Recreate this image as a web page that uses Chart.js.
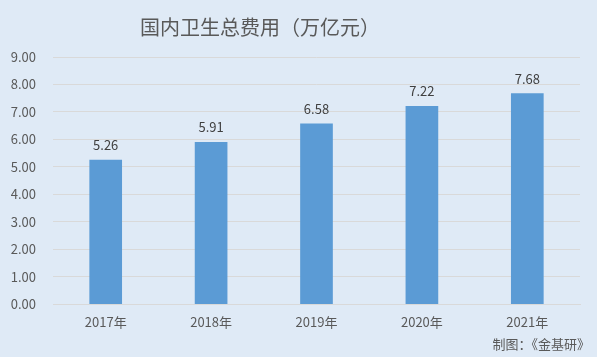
<!DOCTYPE html>
<html>
<head>
<meta charset="utf-8">
<script src="https://cdn.jsdelivr.net/npm/chart.js@4/dist/chart.umd.min.js"></script>
<style>
html,body{margin:0;padding:0;background:#dfeaf6;}
#wrap{width:597px;height:357px;position:relative;}
</style>
</head>
<body>
<div id="wrap"><canvas id="c" width="597" height="357"></canvas></div>
<script>
const categories = ["2017年","2018年","2019年","2020年","2021年"];
const values = [5.26, 5.91, 6.58, 7.22, 7.68];
const yTicks = [0,1,2,3,4,5,6,7,8,9];
const titleText = "国内卫生总费用（万亿元）";
const sourceText = "制图：《金基研》";

const FONT = "'Noto Sans CJK SC', 'Noto Sans', sans-serif";

const labelPlugin = {
  id: 'valueLabels',
  afterDatasetsDraw(chart) {
    const ctx = chart.ctx;
    const meta = chart.getDatasetMeta(0);
    ctx.save();
    ctx.font = "13px " + FONT;
    ctx.fillStyle = "#404040";
    ctx.textAlign = "center";
    ctx.textBaseline = "bottom";
    meta.data.forEach((bar, i) => {
      ctx.fillText(values[i].toFixed(2), bar.x, bar.y - 8);
    });
    ctx.restore();
  }
};

const decoPlugin = {
  id: 'deco',
  beforeDraw(chart) {
    const ctx = chart.ctx;
    ctx.save();
    ctx.fillStyle = "#dfeaf6";
    ctx.fillRect(0, 0, chart.width, chart.height);
    ctx.restore();
  },
  afterDraw(chart) {
    const ctx = chart.ctx;
    ctx.save();
    ctx.fillStyle = "#595959";
    ctx.textBaseline = "middle";
    ctx.font = "20px " + FONT;
    ctx.textAlign = "center";
    ctx.fillText(titleText, 260, 27);
    ctx.font = "13px " + FONT;
    ctx.textAlign = "right";
    ctx.fillText(sourceText, 590, 344);
    ctx.restore();
  }
};

new Chart(document.getElementById('c'), {
  type: 'bar',
  data: {
    labels: categories,
    datasets: [{
      data: values,
      backgroundColor: "#5b9bd5",
      categoryPercentage: 1.0,
      barPercentage: 0.31
    }]
  },
  options: {
    responsive: false,
    animation: false,
    devicePixelRatio: 1,
    layout: { padding: { left: 0, right: 17, top: 57, bottom: 17 } },
    plugins: {
      legend: { display: false },
      tooltip: { enabled: false },
      title: { display: false }
    },
    scales: {
      y: {
        min: 0, max: 9,
        afterBuildTicks(axis) { axis.ticks = yTicks.map(v => ({ value: v })); },
        afterFit(axis) { axis.width = 53; },
        ticks: {
          color: "#595959",
          font: { family: FONT, size: 13 },
          padding: 17,
          callback: v => Number(v).toFixed(2)
        },
        grid: { color: "#d9d9d9", drawTicks: false, lineWidth: 1 },
        border: { display: false }
      },
      x: {
        ticks: {
          color: "#595959",
          font: { family: FONT, size: 13 },
          padding: 10
        },
        grid: { display: false, drawTicks: false },
        border: { display: true, color: "#d9d9d9" }
      }
    }
  },
  plugins: [decoPlugin, labelPlugin]
});
</script>
</body>
</html>
